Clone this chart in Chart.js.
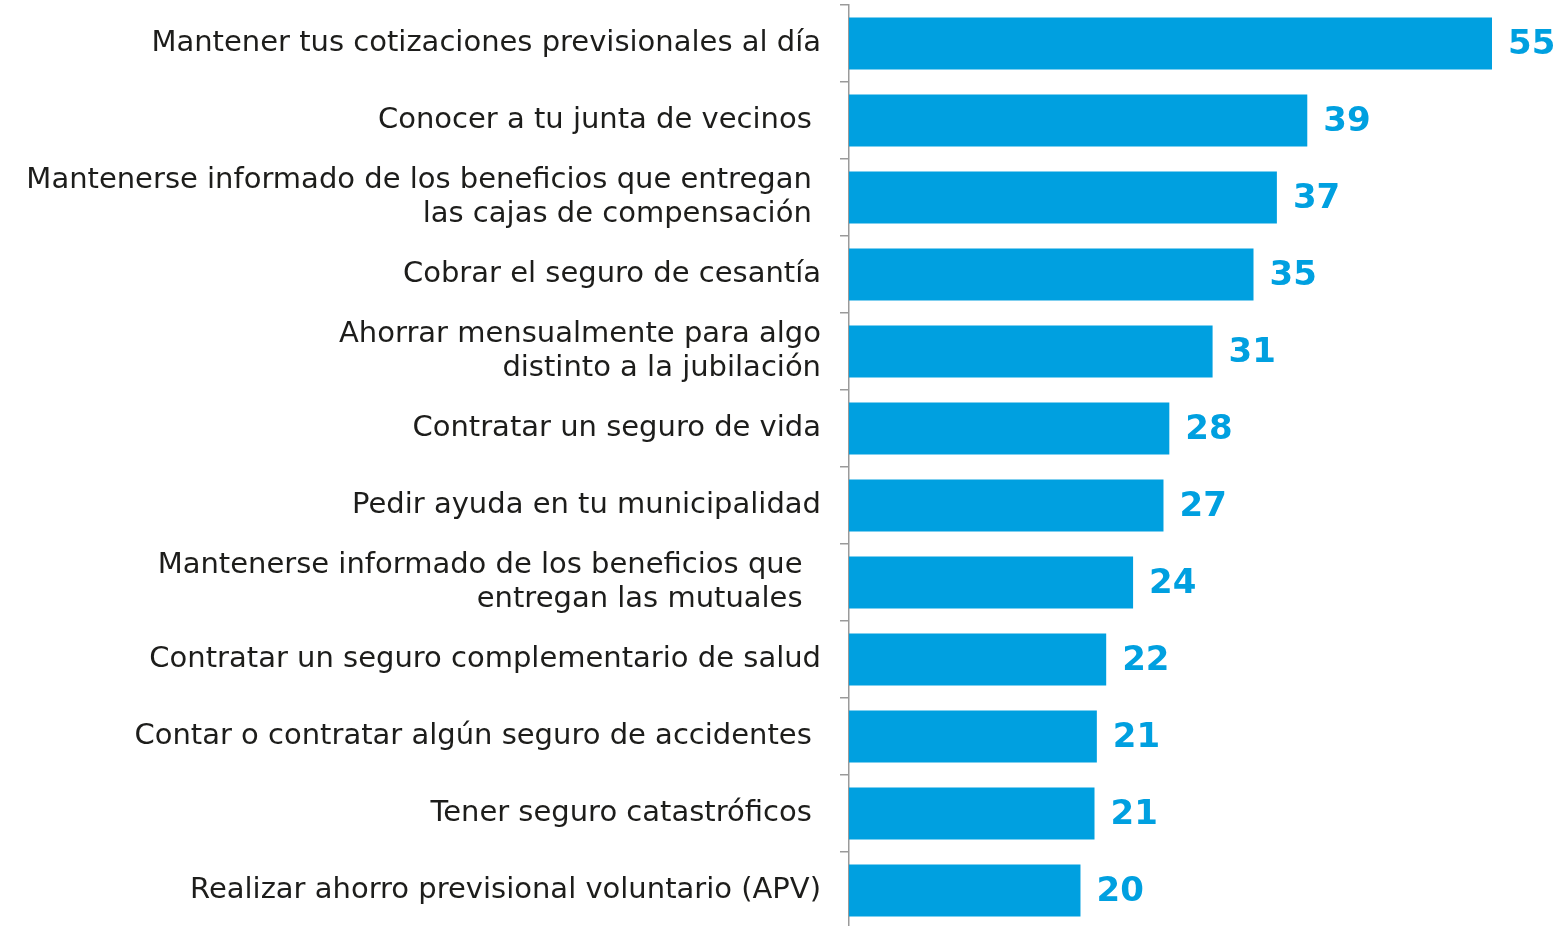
<!DOCTYPE html>
<html>
<head>
<meta charset="utf-8">
<script src="https://cdn.jsdelivr.net/npm/chart.js@4.4.1/dist/chart.umd.min.js"></script>
<style>
html,body{margin:0;padding:0;background:#fff;overflow:hidden;width:1557px;height:926px;}
#wrap{position:relative;width:1557px;height:929px;}
</style>
</head>
<body>
<div id="wrap"><canvas id="c"></canvas></div>
<script>
const categories = [
  "Mantener tus cotizaciones previsionales al día",
  "Conocer a tu junta de vecinos ",
  ["Mantenerse informado de los beneficios que entregan ", "las cajas de compensación "],
  "Cobrar el seguro de cesantía",
  ["Ahorrar mensualmente para algo", "distinto a la jubilación"],
  "Contratar un seguro de vida",
  "Pedir ayuda en tu municipalidad",
  ["Mantenerse informado de los beneficios que  ", "entregan las mutuales  "],
  "Contratar un seguro complementario de salud",
  "Contar o contratar algún seguro de accidentes ",
  "Tener seguro catastróficos ",
  "Realizar ahorro previsional voluntario (APV)"
];
const values = [55, 39.2, 36.6, 34.6, 31.1, 27.4, 26.9, 24.3, 22.0, 21.2, 21.0, 19.8];
const valueLabels = ["55","39","37","35","31","28","27","24","22","21","21","20"];

const BLUE = '#00A0E0';
const FONT = '"DejaVu Sans", sans-serif';

const valueLabelPlugin = {
  id: 'valueLabels',
  afterDatasetsDraw(chart) {
    const ctx = chart.ctx;
    const meta = chart.getDatasetMeta(0);
    ctx.save();
    ctx.fillStyle = BLUE;
    ctx.font = 'bold 34px ' + FONT;
    ctx.textAlign = 'left';
    ctx.textBaseline = 'middle';
    meta.data.forEach((bar, i) => {
      ctx.fillText(valueLabels[i], bar.x + 16, bar.y + 2);
    });
    ctx.restore();
  }
};

new Chart(document.getElementById('c'), {
  type: 'bar',
  data: {
    labels: categories,
    datasets: [{
      data: values,
      backgroundColor: BLUE,
      borderWidth: 0,
      barPercentage: 0.675,
      categoryPercentage: 1.0
    }]
  },
  options: {
    indexAxis: 'y',
    responsive: true,
    maintainAspectRatio: false,
    animation: false,
    layout: { padding: { top: 5, bottom: 0, left: 0, right: 0 } },
    plugins: { legend: { display: false }, tooltip: { enabled: false } },
    scales: {
      x: { display: false, min: 0, max: 60.56 },
      y: {
        afterFit(scale) { scale.width = 849; scale.paddingTop = 0; scale.paddingBottom = 0; },
        grid: { display: true, offset: true, drawOnChartArea: false, tickLength: 9, color: '#9a9a9a', lineWidth: 1.5 },
        border: { display: true, color: '#9a9a9a', width: 1.5 },
        ticks: { color: '#1d1d1b', font: { family: FONT, size: 29, lineHeight: 1.2 }, padding: 19, crossAlign: 'near' }
      }
    }
  },
  plugins: [valueLabelPlugin]
});
</script>
</body>
</html>
